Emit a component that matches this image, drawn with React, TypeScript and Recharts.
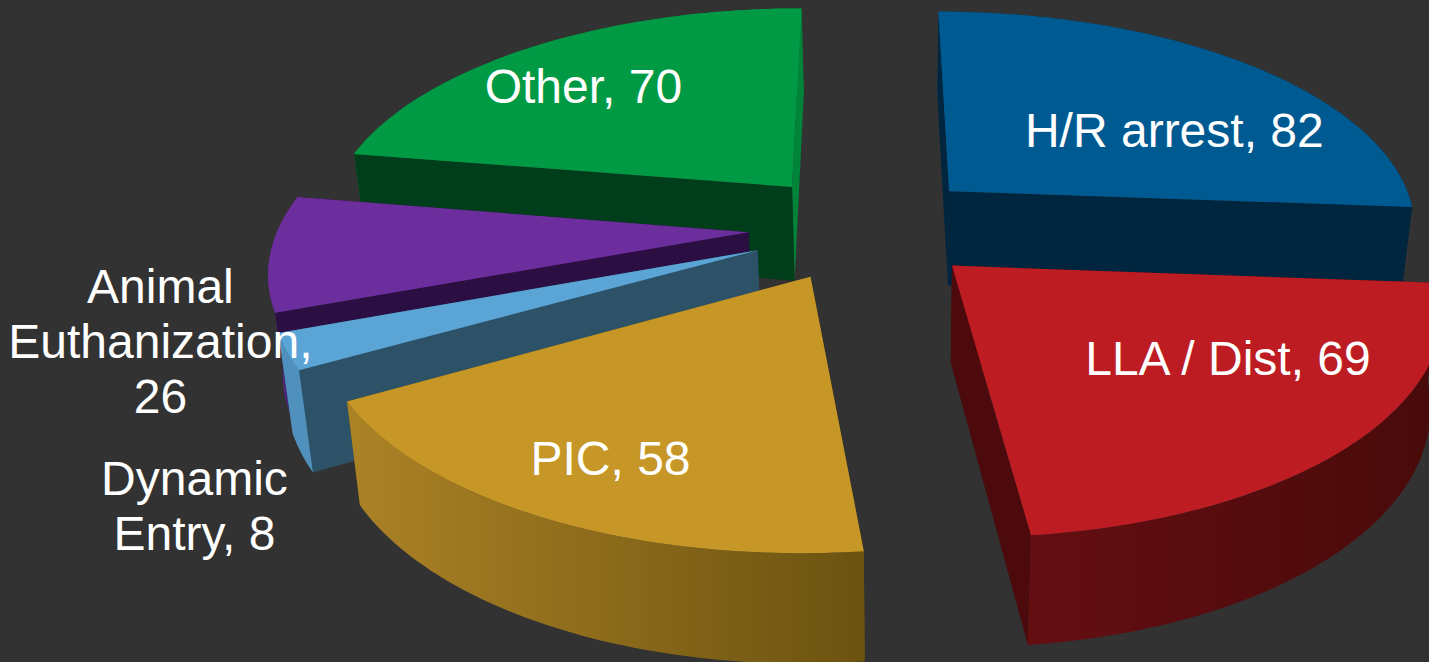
import React from "react";
import { PieChart, Pie } from "recharts";

// Paint order runs back to front, counter-clockwise from the H/R slice.
const categories = ["H/R arrest", "Other", "Animal Euthanization", "Dynamic Entry", "PIC", "LLA / Dist"];
const values = [82, 70, 26, 8, 58, 69];

const total = values.reduce((a, b) => a + b, 0);
const rows = categories.map((name, i) => ({ name, value: values[i] }));

const WIDTH = 1429;
const HEIGHT = 662;
const CX = 865.5;
const CY = 227;
const RADIUS = 470;
const EXPLODE = 117;
const VIEW_DIST = 3076;
const TILT = 0.462;
const FONT = '"Liberation Sans", Arial, sans-serif';

type Style = { top: string; startCut: string; endCut: string; wallA: string; wallB: string };
const STYLES: Record<string, Style> = {
  "H/R arrest": { top: "#005A92", startCut: "#00263F", endCut: "#00263F", wallA: "#003A5E", wallB: "#00263F" },
  "LLA / Dist": { top: "#BC1C22", startCut: "#4C0A0C", endCut: "#4C0A0C", wallA: "#640E12", wallB: "#480A0A" },
  PIC: { top: "#C69726", startCut: "#6B5310", endCut: "#6B5310", wallA: "#AC8226", wallB: "#6B5310" },
  "Dynamic Entry": { top: "#5BA5D6", startCut: "#2D5268", endCut: "#2D5268", wallA: "#5090BC", wallB: "#5090BC" },
  "Animal Euthanization": { top: "#6C2E9C", startCut: "#2C0F42", endCut: "#2C0F42", wallA: "#55248A", wallB: "#55248A" },
  Other: { top: "#009A44", startCut: "#003D1A", endCut: "#00843A", wallA: "#007F36", wallB: "#007F36" },
};

// Label placement: radial fraction of the slice plus a screen nudge.
const LABELS: Record<string, { lines: string[]; rf: number; dx: number; dy: number }> = {
  "H/R arrest": { lines: ["H/R arrest, 82"], rf: 0.6, dx: 40, dy: 18 },
  Other: { lines: ["Other, 70"], rf: 0.6, dx: -47.5, dy: -13 },
  "LLA / Dist": { lines: ["LLA / Dist, 69"], rf: 0.6, dx: 47, dy: -10 },
  PIC: { lines: ["PIC, 58"], rf: 0.6, dx: -50, dy: 45 },
  "Animal Euthanization": { lines: ["Animal", "Euthanization,", "26"], rf: 1.15, dx: -37, dy: 84 },
  "Dynamic Entry": { lines: ["Dynamic", "Entry, 8"], rf: 1.15, dx: -16, dy: 137 },
};

const RAD = Math.PI / 180;

// Plane (x right, y toward the viewer) to the screen.
function project(x: number, y: number, cx: number, cy: number): [number, number] {
  const s = VIEW_DIST / (VIEW_DIST - y);
  return [cx + x * s, cy + y * TILT * s];
}

// The same point on the underside of the slab.
function drop([x, y]: [number, number]): [number, number] {
  return [x + (901 - x) * 0.0232, y + 94 + (y - 190) * 0.045];
}

const toPath = (pts: [number, number][]) =>
  "M" + pts.map((p) => `${p[0].toFixed(1)},${p[1].toFixed(1)}`).join("L") + "Z";

function Slice3D(props: any) {
  const { cx, cy, outerRadius, startAngle, endAngle, name, payload } = props;
  const key: string = name ?? payload?.name;
  const st = STYLES[key];
  const mid = (startAngle + endAngle) / 2;
  const ox = EXPLODE * Math.cos(mid * RAD);
  const oy = -EXPLODE * Math.sin(mid * RAD);
  const tip = project(ox, oy, cx, cy);
  const lo = Math.min(startAngle, endAngle);
  const hi = Math.max(startAngle, endAngle);
  const n = Math.ceil(hi - lo);
  const rim: [number, number][] = [];
  for (let i = 0; i <= n; i++) {
    const a = (lo + ((hi - lo) * i) / n) * RAD;
    rim.push(project(ox + outerRadius * Math.cos(a), oy - outerRadius * Math.sin(a), cx, cy));
  }
  const rimLow = rim.map(drop);
  const tipLow = drop(tip);
  const gid = "wall-" + key.replace(/[^a-zA-Z]/g, "");
  const xs = rim.map((p) => p[0]);

  const walls = [
    { d: toPath([tip, rim[0], rimLow[0], tipLow]), fill: st.endCut, y: (tip[1] + rim[0][1]) / 2 },
    { d: toPath([tip, rim[n], rimLow[n], tipLow]), fill: st.startCut, y: (tip[1] + rim[n][1]) / 2 },
    {
      d: toPath([...rim, ...rimLow.slice().reverse()]),
      fill: `url(#${gid})`,
      y: rim.reduce((s, p) => s + p[1], 0) / rim.length,
    },
  ].sort((a, b) => a.y - b.y);

  return (
    <g>
      <defs>
        <linearGradient id={gid} gradientUnits="userSpaceOnUse" x1={Math.min(...xs)} y1={0} x2={Math.max(...xs)} y2={0}>
          <stop offset="0%" stopColor={st.wallA} />
          <stop offset="100%" stopColor={st.wallB} />
        </linearGradient>
      </defs>
      {walls.map((w, i) => (
        <path key={i} d={w.d} fill={w.fill} />
      ))}
      <path d={toPath([tip, ...rim])} fill={st.top} />
    </g>
  );
}

function SliceLabel(props: any) {
  const { cx, cy, outerRadius, midAngle, name, payload } = props;
  const key: string = name ?? payload?.name;
  const lab = LABELS[key];
  if (!lab) return null;
  const r = EXPLODE + lab.rf * outerRadius;
  const [x, y] = project(r * Math.cos(midAngle * RAD), -r * Math.sin(midAngle * RAD), cx, cy);
  const lineH = 55;
  const first = y + lab.dy - ((lab.lines.length - 1) * lineH) / 2 + 17;
  return (
    <text x={x + lab.dx} y={first} fill="#FFFFFF" fontFamily={FONT} fontSize={48} textAnchor="middle">
      {lab.lines.map((l, i) => (
        <tspan key={i} x={x + lab.dx} y={first + i * lineH}>
          {l}
        </tspan>
      ))}
    </text>
  );
}

const START = 90 - (values[0] / total) * 360;

export default function App() {
  return (
    <div style={{ position: "absolute", left: 0, top: 0, width: WIDTH, height: HEIGHT, background: "#323232", overflow: "hidden" }}>
      <PieChart width={WIDTH} height={HEIGHT} margin={{ top: 0, right: 0, bottom: 0, left: 0 }}>
        <Pie
          data={rows}
          dataKey="value"
          nameKey="name"
          cx={CX}
          cy={CY}
          innerRadius={0}
          outerRadius={RADIUS}
          startAngle={START}
          endAngle={START + 360}
          stroke="none"
          isAnimationActive={false}
          shape={Slice3D as any}
          label={SliceLabel as any}
          labelLine={false}
        />
      </PieChart>
    </div>
  );
}
